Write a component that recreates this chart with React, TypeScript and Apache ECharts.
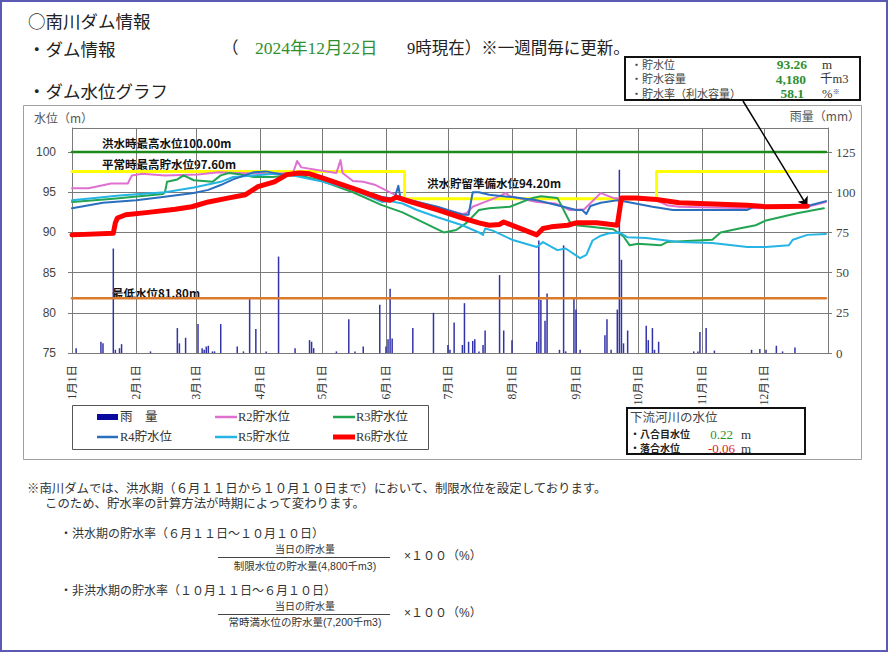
import React, { useEffect, useRef } from "react";
import * as echarts from "echarts";

// ---------- data ----------
const MONTH_LABELS = ["1月1日", "2月1日", "3月1日", "4月1日", "5月1日", "6月1日", "7月1日", "8月1日", "9月1日", "10月1日", "11月1日", "12月1日"];
const MONTH_START_DAYS = [0, 31, 60, 91, 121, 152, 182, 213, 244, 274, 305, 335];
const DAY_COUNT = 367; // 2024-01-01 .. 2025-01-01
const LAST_DAY = 365;

const FLOOD_MAX = 100.0; // 洪水時最高水位
const NORMAL_MAX = 97.6; // 平常時最高貯水位
const FLOOD_READY = 94.2; // 洪水貯留準備水位
const MIN_LEVEL = 81.8; // 最低水位
const FLOOD_SEASON_START = 161; // 6月10日
const FLOOD_SEASON_END = 283; // 10月10日

const R2 = [[0, 95.5], [8, 95.5], [19, 96.1], [27, 96.1], [29, 97.1], [34, 97.3], [45, 97.1], [61, 97.2], [71, 97.5], [80, 97.4], [95, 97.3], [107, 97.4], [109, 98.9], [111, 98.1], [128, 97.4], [130, 99.0], [131, 97.4], [136, 96.4], [141, 96.3], [147, 95.9], [154, 95.0], [158, 94.5], [170, 93.6], [180, 92.9], [189, 92.3], [191, 92.4], [194, 93.2], [200, 93.8], [205, 94.3], [210, 94.9], [212, 94.5], [225, 93.8], [234, 93.6], [241, 92.8], [248, 92.9], [256, 94.9], [262, 94.3], [270, 94.2], [283, 94.0], [288, 93.4], [294, 93.2], [327, 93.0], [356, 93.2], [365, 93.8]];
const R3 = [[0, 93.8], [20, 94.2], [44, 94.8], [45, 95.0], [46, 96.3], [51, 96.6], [54, 97.1], [59, 96.5], [68, 96.3], [72, 97.1], [76, 97.4], [82, 97.2], [88, 96.9], [97, 96.9], [104, 97.1], [110, 97.1], [120, 96.5], [136, 95.0], [150, 93.4], [160, 92.5], [168, 91.5], [180, 90.0], [186, 90.3], [191, 91.2], [197, 92.8], [202, 93.0], [212, 93.2], [223, 94.3], [227, 94.5], [235, 94.3], [241, 91.3], [244, 90.9], [251, 90.7], [262, 90.4], [267, 89.5], [270, 88.4], [274, 88.6], [285, 88.4], [288, 88.8], [310, 89.1], [314, 90.0], [323, 90.5], [331, 90.9], [336, 91.5], [351, 92.4], [364, 93.0]];
const R4 = [[0, 93.0], [15, 93.7], [31, 94.0], [44, 94.4], [59, 94.9], [66, 95.3], [72, 95.9], [78, 96.6], [88, 97.5], [94, 97.6], [102, 97.2], [110, 97.3], [120, 97.0], [136, 95.6], [150, 94.4], [156, 94.2], [158, 95.8], [159, 94.3], [177, 93.2], [189, 92.2], [192, 92.2], [194, 95.0], [197, 95.0], [202, 94.7], [213, 94.4], [225, 94.0], [238, 93.2], [244, 92.8], [247, 92.8], [249, 92.3], [251, 93.3], [256, 93.7], [264, 94.0], [269, 93.8], [281, 93.2], [291, 92.8], [327, 92.8], [330, 93.2], [356, 93.3], [365, 93.9]];
const R5 = [[0, 94.0], [23, 94.6], [45, 95.0], [59, 95.6], [72, 96.3], [78, 96.9], [88, 97.1], [98, 97.3], [107, 97.1], [120, 96.4], [136, 95.3], [150, 93.8], [154, 93.9], [160, 93.6], [167, 92.8], [177, 91.9], [189, 90.9], [197, 90.0], [199, 89.7], [200, 90.5], [204, 90.2], [213, 89.1], [225, 88.2], [228, 88.8], [235, 87.8], [239, 88.0], [246, 86.8], [249, 87.2], [252, 89.0], [256, 89.6], [260, 89.9], [265, 90.0], [269, 89.4], [278, 89.3], [285, 89.1], [294, 88.8], [310, 88.7], [327, 88.2], [336, 88.2], [347, 88.4], [349, 89.1], [356, 89.7], [365, 89.8]];
const R6 = [[0, 89.7], [20, 89.9], [21, 91.2], [22, 91.8], [26, 92.2], [37, 92.5], [50, 92.9], [58, 93.2], [66, 93.8], [76, 94.3], [84, 94.7], [90, 95.7], [98, 96.3], [104, 97.2], [110, 97.4], [115, 97.3], [120, 96.9], [136, 95.5], [150, 94.2], [154, 94.0], [157, 94.4], [164, 93.8], [177, 92.8], [189, 91.8], [197, 91.2], [202, 90.9], [207, 91.0], [209, 91.3], [215, 90.7], [225, 89.7], [228, 90.5], [232, 90.7], [240, 90.9], [244, 91.2], [254, 91.2], [264, 90.9], [266, 94.3], [273, 94.3], [283, 94.1], [294, 93.7], [304, 93.6], [327, 93.4], [336, 93.2], [356, 93.26]];
const RAIN = [[2, 3], [14, 7], [15, 6], [20, 65], [21, 2], [23, 3], [24, 5.5], [38, 1], [51, 15.5], [52, 6], [55, 9.5], [61, 18], [63, 3], [64, 2], [65, 4], [66, 4.5], [68, 1], [69, 1], [72, 18], [80, 4], [83, 1], [86, 33.5], [89, 15], [94, 1], [100, 60], [108, 3], [115, 8], [116, 7], [117, 3], [128, 1], [134, 21], [137, 1], [141, 4], [149, 30], [152, 4], [153, 8.5], [154, 40], [155, 9], [165, 15.5], [175, 25], [182, 5], [183, 2], [185, 19], [189, 5], [190, 31], [192, 7], [194, 7.5], [195, 8.5], [197, 1], [199, 5], [200, 14], [207, 48.5], [209, 14], [213, 8], [225, 7], [226, 70], [227, 33], [229, 20], [230, 37], [236, 2], [238, 67], [239, 1], [243, 34], [244, 27], [246, 2], [258, 11], [259, 21], [261, 2], [264, 27], [265, 114], [266, 58], [267, 6], [269, 14], [278, 17], [279, 8], [281, 15.5], [282, 2], [284, 7], [301, 1], [303, 1], [304, 13], [307, 15.5], [311, 1.5], [329, 2], [333, 2.5], [336, 2], [341, 4.5], [344, 1], [350, 3.5]];

const LEVEL_TICKS = { min: 75, max: 103, interval: 5 };
const RAIN_TICKS = { min: 0, max: 140, interval: 25 };

const CURRENT = { level: "93.26", volume: "4,180", ratio: "58.1", date: "2024年12月22日" };
const RIVER = { hachigome: "0.22", ochiai: "-0.06" };

// ---------- styles ----------
const GOTHIC = "'Noto Sans CJK JP', 'Noto Sans', sans-serif";
const GOTHIC_TIGHT = "'Liberation Sans', 'Noto Sans CJK JP', sans-serif";
const SERIF = "'Liberation Serif', 'Noto Sans CJK JP', serif";
const C = {
  r2: "#e070d0",
  r3: "#22a552",
  r4: "#2a6fbe",
  r5: "#25b4e4",
  r6: "#ff0000",
  rain: "#3333a8",
  green: "#1b8a1b",
  yellow: "#ffff00",
  orange: "#d97a2c",
  grid: "#7a7a7a",
  valGreen: "#2f8f2f",
};

function txt(x: number, y: number, text: string, extra: any = {}) {
  return {
    type: "text",
    x,
    y,
    silent: true,
    style: {
      text,
      fill: "#333",
      fontFamily: GOTHIC,
      fontSize: 12,
      align: "left",
      verticalAlign: "middle",
      ...extra,
    },
  };
}

function rect(x: number, y: number, w: number, h: number, stroke: string, lw: number, fill = "none") {
  return { type: "rect", silent: true, shape: { x, y, width: w, height: h }, style: { stroke, lineWidth: lw, fill } };
}

function hline(x1: number, x2: number, y: number, stroke: string, lw: number) {
  return { type: "line", silent: true, shape: { x1, y1: y, x2, y2: y }, style: { stroke, lineWidth: lw } };
}

export default function App() {
  const ref = useRef<HTMLDivElement>(null);

  useEffect(() => {
    const chart = echarts.init(ref.current!, undefined, { renderer: "svg" });
    const days = Array.from({ length: DAY_COUNT }, (_, i) => String(i));
    const isMonthStart = (i: number) => MONTH_START_DAYS.indexOf(i) >= 0;

    const yellowStep = [
      [0, NORMAL_MAX],
      [FLOOD_SEASON_START, NORMAL_MAX],
      [FLOOD_SEASON_START, FLOOD_READY],
      [FLOOD_SEASON_END, FLOOD_READY],
      [FLOOD_SEASON_END, NORMAL_MAX],
      [LAST_DAY, NORMAL_MAX],
    ];

    const lineSeries = (name: string, data: number[][], color: string, width: number, z: number) => ({
      name,
      type: "line",
      data,
      symbol: "none",
      z,
      lineStyle: { color, width, join: "round", cap: "round" },
      itemStyle: { color },
    });

    const graphic: any[] = [
      // page frame
      rect(1, 1, 886, 650, "#5a5ab4", 2),
      // headers
      txt(28, 20, "○南川ダム情報", { fontSize: 17.5, fill: "#222" }),
      txt(28, 48, "・ダム情報", { fontSize: 17.5, fill: "#222" }),
      txt(222, 48, "（", { fontSize: 16.5, fontFamily: SERIF, fill: "#222" }),
      txt(255, 48, CURRENT.date, { fontSize: 17.5, fontFamily: SERIF, fill: C.valGreen }),
      txt(407, 48, "9時現在）※一週間毎に更新。", { fontSize: 16.5, fontFamily: SERIF, fill: "#222" }),
      txt(28, 90, "・ダム水位グラフ", { fontSize: 17.5, fill: "#222" }),
      // chart frame
      rect(23.5, 105.5, 838, 354, "#a0a0a0", 1),
      // axis names
      txt(34, 117, "水位（m）", { fontSize: 12, fill: "#555" }),
      txt(860, 115, "雨量（mm）", { fontSize: 12, fill: "#555", align: "right" }),
      // reference line labels
      txt(102, 143, "洪水時最高水位100.00m", { fontSize: 11.5, fontWeight: "bold", fill: "#111" }),
      txt(102, 164, "平常時最高貯水位97.60m", { fontSize: 11.5, fontWeight: "bold", fill: "#111" }),
      txt(427, 183, "洪水貯留準備水位94.20m", { fontSize: 11.5, fontWeight: "bold", fill: "#111" }),
      txt(112, 293, "最低水位81.80m", { fontSize: 11.5, fontWeight: "bold", fill: "#111" }),
      // info box
      rect(625, 57, 235, 43, "#111", 2, "#fff"),
      txt(631, 64.5, "・貯水位", { fontSize: 11, fontFamily: GOTHIC_TIGHT, fill: "#444" }),
      txt(807, 64.5, CURRENT.level, { fontSize: 13.5, fontFamily: SERIF, fontWeight: "bold", fill: C.valGreen, align: "right" }),
      txt(822, 64.5, "m", { fontSize: 13, fontFamily: SERIF, fill: "#333" }),
      txt(631, 79, "・貯水容量", { fontSize: 11, fontFamily: GOTHIC_TIGHT, fill: "#444" }),
      txt(806, 79, CURRENT.volume, { fontSize: 13.5, fontFamily: SERIF, fontWeight: "bold", fill: C.valGreen, align: "right" }),
      txt(820, 79, "千m3", { fontSize: 12.5, fontFamily: SERIF, fill: "#333" }),
      txt(631, 93.5, "・貯水率（利水容量）", { fontSize: 11, fontFamily: GOTHIC_TIGHT, fill: "#444" }),
      txt(804, 93.5, CURRENT.ratio, { fontSize: 13.5, fontFamily: SERIF, fontWeight: "bold", fill: C.valGreen, align: "right" }),
      txt(822, 93.5, "%", { fontSize: 12.5, fontFamily: SERIF, fill: "#333" }),
      txt(833, 91.5, "※", { fontSize: 6.5, fontFamily: GOTHIC_TIGHT, fill: "#333" }),
      // legend
      rect(72.5, 405.5, 356, 44, "#555", 1, "#fff"),
      { type: "rect", silent: true, shape: { x: 97, y: 414, width: 21, height: 6 }, style: { fill: "#0a0aa0" } },
      txt(120, 417, "雨　量", { fontSize: 12.5, fontFamily: SERIF }),
      hline(215, 237, 417, C.r2, 2.5),
      txt(238, 417, "R2貯水位", { fontSize: 12.5, fontFamily: SERIF }),
      hline(333, 355, 417, C.r3, 2.5),
      txt(356, 417, "R3貯水位", { fontSize: 12.5, fontFamily: SERIF }),
      hline(97, 118, 437, C.r4, 2.5),
      txt(120, 437, "R4貯水位", { fontSize: 12.5, fontFamily: SERIF }),
      hline(215, 237, 437, C.r5, 2.5),
      txt(238, 437, "R5貯水位", { fontSize: 12.5, fontFamily: SERIF }),
      hline(333, 355, 437, C.r6, 5),
      txt(356, 437, "R6貯水位", { fontSize: 12.5, fontFamily: SERIF }),
      // downstream river box
      rect(627, 408, 178, 46, "#111", 2, "#fff"),
      txt(630, 418, "下流河川の水位", { fontSize: 12.5, fontFamily: GOTHIC_TIGHT, fill: "#444" }),
      txt(630, 434, "・八合目水位", { fontSize: 10, fontFamily: GOTHIC_TIGHT, fontWeight: "bold", fill: "#222" }),
      txt(733, 434, RIVER.hachigome, { fontSize: 13, fontFamily: SERIF, fill: C.valGreen, align: "right" }),
      txt(741, 434, "m", { fontSize: 13, fontFamily: SERIF, fill: "#333" }),
      txt(630, 448, "・落合水位", { fontSize: 10, fontFamily: GOTHIC_TIGHT, fontWeight: "bold", fill: "#222" }),
      txt(735, 448, RIVER.ochiai, { fontSize: 13, fontFamily: SERIF, fill: "#e02020", align: "right" }),
      txt(741, 448, "m", { fontSize: 13, fontFamily: SERIF, fill: "#333" }),
      // notes
      txt(27, 489, "※南川ダムでは、洪水期（６月１１日から１０月１０日まで）において、制限水位を設定しております。", { fontSize: 12.4, fontFamily: GOTHIC_TIGHT, fill: "#333" }),
      txt(45, 504, "このため、貯水率の計算方法が時期によって変わります。", { fontSize: 12.4, fontFamily: GOTHIC_TIGHT, fill: "#333" }),
      txt(60, 534, "・洪水期の貯水率（６月１１日～１０月１０日）", { fontSize: 12, fontFamily: GOTHIC_TIGHT, fill: "#333" }),
      txt(305, 549.5, "当日の貯水量", { fontSize: 10, fontFamily: GOTHIC_TIGHT, fill: "#333", align: "center" }),
      hline(218, 390, 557.5, "#444", 1),
      txt(305, 566, "制限水位の貯水量(4,800千m3)", { fontSize: 10.5, fontFamily: GOTHIC_TIGHT, fill: "#333", align: "center" }),
      txt(404, 556, "×１００（%）", { fontSize: 12, fontFamily: GOTHIC_TIGHT, fill: "#333" }),
      txt(60, 591, "・非洪水期の貯水率（１０月１１日～６月１０日）", { fontSize: 12, fontFamily: GOTHIC_TIGHT, fill: "#333" }),
      txt(305, 606.5, "当日の貯水量", { fontSize: 10, fontFamily: GOTHIC_TIGHT, fill: "#333", align: "center" }),
      hline(218, 390, 614.5, "#444", 1),
      txt(305, 622, "常時満水位の貯水量(7,200千m3)", { fontSize: 10.5, fontFamily: GOTHIC_TIGHT, fill: "#333", align: "center" }),
      txt(404, 613, "×１００（%）", { fontSize: 12, fontFamily: GOTHIC_TIGHT, fill: "#333" }),
    ];

    chart.setOption({
      animation: false,
      backgroundColor: "#fff",
      grid: { left: 72, right: 62, top: 128, bottom: 301, containLabel: false },
      xAxis: {
        type: "category",
        data: days,
        boundaryGap: false,
        axisLine: { show: true, lineStyle: { color: C.grid } },
        axisTick: { show: false },
        axisLabel: {
          interval: (i: number) => isMonthStart(i),
          formatter: (_v: string, i: number) => {
            const k = MONTH_START_DAYS.indexOf(i);
            return k >= 0 ? MONTH_LABELS[k] : "";
          },
          rotate: 90,
          margin: 12,
          fontSize: 11.5,
          fontFamily: SERIF,
          color: "#333",
        },
        splitLine: { show: true, interval: (i: number) => isMonthStart(i), lineStyle: { color: C.grid, width: 1 } },
      },
      yAxis: [
        {
          type: "value",
          min: LEVEL_TICKS.min,
          max: LEVEL_TICKS.max,
          interval: LEVEL_TICKS.interval,
          position: "left",
          axisLine: { show: true, lineStyle: { color: C.grid } },
          axisTick: { show: true, length: 4, lineStyle: { color: C.grid } },
          axisLabel: { showMaxLabel: false, margin: 16, fontSize: 12, fontFamily: "'Liberation Sans', Arial, sans-serif", color: "#444" },
          splitLine: { show: true, lineStyle: { color: C.grid, width: 1 } },
        },
        {
          type: "value",
          min: RAIN_TICKS.min,
          max: RAIN_TICKS.max,
          interval: RAIN_TICKS.interval,
          position: "right",
          axisLine: { show: true, lineStyle: { color: C.grid } },
          axisTick: { show: true, length: 4, lineStyle: { color: C.grid } },
          axisLabel: { showMaxLabel: false, margin: 8, fontSize: 13, fontFamily: SERIF, color: "#444" },
          splitLine: { show: false },
        },
      ],
      series: [
        {
          name: "雨　量",
          type: "bar",
          yAxisIndex: 1,
          data: RAIN,
          barWidth: 1.5,
          itemStyle: { color: C.rain },
          z: 1,
        },
        lineSeries("洪水時最高水位", [[0, FLOOD_MAX], [LAST_DAY, FLOOD_MAX]], C.green, 2.5, 2),
        lineSeries("平常時最高貯水位", yellowStep, C.yellow, 3, 2),
        lineSeries("最低水位", [[0, MIN_LEVEL], [LAST_DAY, MIN_LEVEL]], C.orange, 2.5, 2),
        lineSeries("R2貯水位", R2, C.r2, 2, 3),
        lineSeries("R3貯水位", R3, C.r3, 2, 3),
        lineSeries("R5貯水位", R5, C.r5, 2, 3),
        lineSeries("R4貯水位", R4, C.r4, 2, 4),
        {
          ...lineSeries("R6貯水位", R6, C.r6, 5, 5),
          markLine: {
            silent: true,
            symbol: ["none", "arrow"],
            symbolSize: 9,
            label: { show: false },
            lineStyle: { color: "#000", width: 1.5, type: "solid" },
            data: [[{ x: 743, y: 101 }, { coord: [R6[R6.length - 1][0], R6[R6.length - 1][1]] }]],
          },
        },
      ],
      graphic,
    });

    return () => chart.dispose();
  }, []);

  return (
    <div
      ref={ref}
      style={{ position: "absolute", left: 0, top: 0, width: 890, height: 654, background: "#fff" }}
    />
  );
}
